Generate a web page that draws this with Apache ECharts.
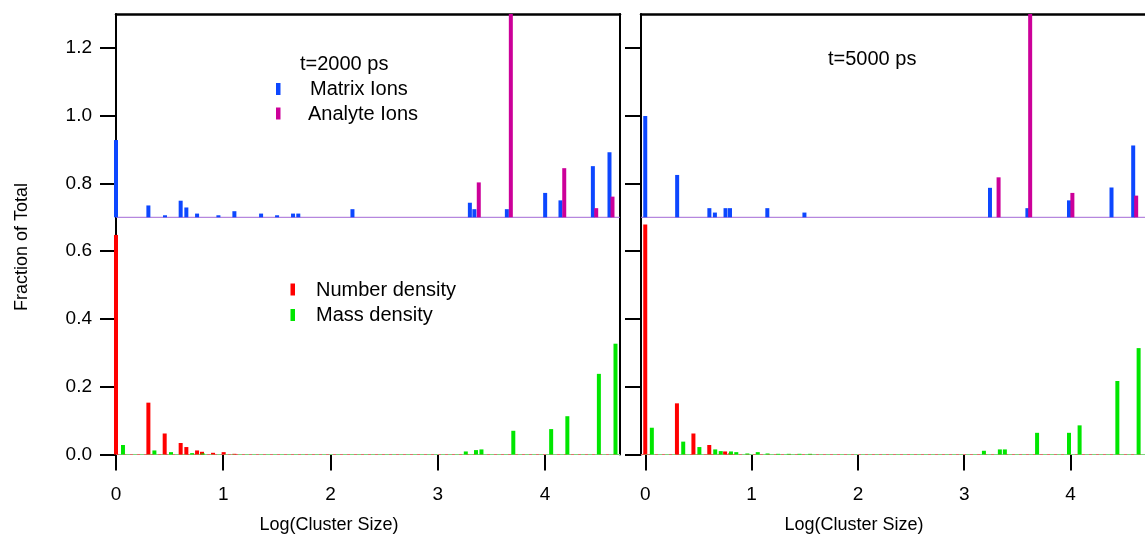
<!DOCTYPE html>
<html>
<head>
<meta charset="utf-8">
<script src="https://cdn.jsdelivr.net/npm/echarts@6/dist/echarts.min.js"></script>
<style>
html,body{margin:0;padding:0;background:#fff;}
#chart{width:1145px;height:541px;}
</style>
</head>
<body>
<div id="chart"></div>
<script>
// ---- data ----
const xTickValues = [0, 1, 2, 3, 4];
const yTickValues = [0, 0.2, 0.4, 0.6, 0.8, 1.0, 1.2];
const ionBaseline = 0.7;

// t = 2000 ps
const matrix2000X = [0.0, 0.302, 0.457, 0.603, 0.656, 0.756, 0.955, 1.104, 1.353, 1.502, 1.651, 1.700, 2.205, 3.300, 3.342, 3.645, 4.002, 4.145, 4.447, 4.602];
const matrix2000Y = [0.928, 0.735, 0.706, 0.749, 0.729, 0.711, 0.706, 0.718, 0.711, 0.706, 0.711, 0.711, 0.724, 0.743, 0.724, 0.724, 0.772, 0.750, 0.851, 0.892];
const analyte2000X = [3.383, 3.682, 4.180, 4.478, 4.630];
const analyte2000Y = [0.803, 1.300, 0.845, 0.727, 0.761];
const number2000X = [0.0, 0.302, 0.454, 0.603, 0.656, 0.756, 0.802, 0.905, 1.004, 1.104];
const number2000Y = [0.648, 0.153, 0.062, 0.034, 0.022, 0.012, 0.008, 0.005, 0.007, 0.002];
const mass2000X = [0.065, 0.358, 0.513, 0.710, 0.810, 3.262, 3.357, 3.408, 3.705, 4.058, 4.209, 4.503, 4.658];
const mass2000Y = [0.028, 0.012, 0.007, 0.004, 0.003, 0.009, 0.013, 0.015, 0.070, 0.075, 0.113, 0.238, 0.327];

// t = 5000 ps
const matrix5000X = [0.0, 0.300, 0.603, 0.655, 0.755, 0.797, 1.148, 1.497, 3.242, 3.594, 3.985, 4.385, 4.589];
const matrix5000Y = [0.999, 0.825, 0.727, 0.714, 0.727, 0.727, 0.727, 0.714, 0.787, 0.727, 0.750, 0.788, 0.912];
const analyte5000X = [3.323, 3.620, 4.017, 4.617];
const analyte5000Y = [0.818, 1.300, 0.772, 0.764];
const number5000X = [0.0, 0.298, 0.453, 0.602, 0.751, 0.800];
const number5000Y = [0.679, 0.151, 0.062, 0.028, 0.009, 0.004];
const mass5000X = [0.062, 0.357, 0.509, 0.658, 0.710, 0.806, 0.856, 0.960, 1.058, 1.150, 1.250, 1.350, 1.450, 1.550, 3.185, 3.335, 3.382, 3.685, 3.985, 4.085, 4.440, 4.640];
const mass5000Y = [0.079, 0.038, 0.022, 0.015, 0.010, 0.009, 0.007, 0.003, 0.007, 0.003, 0.002, 0.002, 0.002, 0.002, 0.011, 0.015, 0.015, 0.064, 0.064, 0.086, 0.217, 0.314];

const xRange2000 = [0, 4.7];
const xRange5000 = [-0.04, 4.7];
const yRange = [0, 1.3];

// ---- styling ----
const C_BLUE = '#0d47ff', C_MAG = '#cc0099', C_RED = '#ff0000', C_GREEN = '#00e600', C_BASE = '#a36ad6';
const FONT = 'Liberation Sans, Arial, Helvetica, sans-serif';
const BAR_W = 4;

const zip = (xs, ys) => xs.map((x, i) => [x, ys[i]]);

function barSeries(name, xs, ys, base, color, idx) {
  return {
    name, type: 'custom', xAxisIndex: idx * 2, yAxisIndex: idx * 2,
    data: zip(xs, ys), silent: true, z: 3,
    renderItem: function (params, api) {
      const x = api.value(0), y = api.value(1);
      const top = api.coord([x, y]);
      const bot = api.coord([x, base]);
      return { type: 'rect', shape: { x: top[0] - BAR_W / 2, y: top[1], width: BAR_W, height: bot[1] - top[1] }, style: { fill: color } };
    }
  };
}
function lineSeries(xr, y, color, type, idx, z) {
  return {
    type: 'line', xAxisIndex: idx * 2, yAxisIndex: idx * 2, data: [[xr[0], y], [xr[1], y]],
    symbol: 'none', silent: true, z: z, lineStyle: { color, width: 1, type }
  };
}

const tickLabel = { fontFamily: FONT, fontSize: 19, color: '#000' };

function xAxes(idx, range, showLabels) {
  return [
    { gridIndex: idx, type: 'value', min: range[0], max: range[1], position: 'bottom',
      axisLine: { show: false },
      axisTick: { show: true, length: 16, inside: false, customValues: xTickValues, lineStyle: { color: '#000', width: 2 } },
      axisLabel: { show: showLabels, customValues: xTickValues, margin: 31, ...tickLabel },
      splitLine: { show: false } },
    { gridIndex: idx, type: 'value', min: range[0], max: range[1], position: 'top',
      axisLine: { show: true, onZero: false, lineStyle: { color: '#000', width: 2.5 } },
      axisTick: { show: false }, axisLabel: { show: false }, splitLine: { show: false } }
  ];
}
function yAxes(idx, showLabels, showRight) {
  return [
    { gridIndex: idx, type: 'value', min: yRange[0], max: yRange[1], position: 'left',
      axisLine: { show: true, onZero: false, lineStyle: { color: '#000', width: 2 } },
      axisTick: { show: true, length: 16, customValues: yTickValues, lineStyle: { color: '#000', width: 2 } },
      axisLabel: { show: showLabels, customValues: yTickValues, margin: 24, formatter: v => v.toFixed(1), ...tickLabel },
      splitLine: { show: false } },
    { gridIndex: idx, type: 'value', min: yRange[0], max: yRange[1], position: 'right',
      axisLine: { show: showRight, onZero: false, lineStyle: { color: '#000', width: 2 } },
      axisTick: { show: false }, axisLabel: { show: false }, splitLine: { show: false } }
  ];
}

const chart = echarts.init(document.getElementById('chart'), null, { renderer: 'canvas' });

function txt(text, x, y, size, extra) {
  return Object.assign({ type: 'text', x, y, silent: true,
    style: { text, fontFamily: FONT, fontSize: size, fill: '#000', textAlign: 'left', textVerticalAlign: 'middle' } }, extra || {});
}
function swatch(x, y, color) {
  return { type: 'rect', silent: true, shape: { x, y, width: 4.5, height: 12 }, style: { fill: color } };
}

const option = {
  animation: false,
  backgroundColor: '#fff',
  grid: [
    { left: 116, top: 14, width: 504, height: 440.5, containLabel: false },
    { left: 641, top: 14, width: 510, height: 440.5, containLabel: false }
  ],
  xAxis: [...xAxes(0, xRange2000, true), ...xAxes(1, xRange5000, true)],
  yAxis: [...yAxes(0, true, true), ...yAxes(1, false, false)],
  series: [
    lineSeries(xRange2000, 0, '#7ed67e', 'solid', 0, 1),
    lineSeries(xRange2000, 0, '#e07070', [3, 4], 0, 2),
    lineSeries(xRange2000, ionBaseline, C_BASE, 'solid', 0, 2),
    lineSeries(xRange5000, 0, '#7ed67e', 'solid', 1, 1),
    lineSeries(xRange5000, 0, '#e07070', [3, 4], 1, 2),
    lineSeries(xRange5000, ionBaseline, C_BASE, 'solid', 1, 2),
    barSeries('Matrix Ions 2000', matrix2000X, matrix2000Y, ionBaseline, C_BLUE, 0),
    barSeries('Analyte Ions 2000', analyte2000X, analyte2000Y, ionBaseline, C_MAG, 0),
    barSeries('Number density 2000', number2000X, number2000Y, 0, C_RED, 0),
    barSeries('Mass density 2000', mass2000X, mass2000Y, 0, C_GREEN, 0),
    barSeries('Matrix Ions 5000', matrix5000X, matrix5000Y, ionBaseline, C_BLUE, 1),
    barSeries('Analyte Ions 5000', analyte5000X, analyte5000Y, ionBaseline, C_MAG, 1),
    barSeries('Number density 5000', number5000X, number5000Y, 0, C_RED, 1),
    barSeries('Mass density 5000', mass5000X, mass5000Y, 0, C_GREEN, 1)
  ],
  graphic: [
    txt('Fraction of Total', 22, 247, 18, { rotation: Math.PI / 2, style: { text: 'Fraction of Total', fontFamily: FONT, fontSize: 18, fill: '#000', textAlign: 'center', textVerticalAlign: 'middle' } }),
    txt('Log(Cluster Size)', 329, 525, 18, { style: { text: 'Log(Cluster Size)', fontFamily: FONT, fontSize: 18, fill: '#000', textAlign: 'center', textVerticalAlign: 'middle' } }),
    txt('Log(Cluster Size)', 854, 525, 18, { style: { text: 'Log(Cluster Size)', fontFamily: FONT, fontSize: 18, fill: '#000', textAlign: 'center', textVerticalAlign: 'middle' } }),
    txt('t=2000 ps', 300, 64, 20),
    swatch(276, 83, C_BLUE),
    txt('Matrix Ions', 310, 89.5, 20),
    swatch(276, 107.5, C_MAG),
    txt('Analyte Ions', 308, 114, 20),
    swatch(290.5, 283.5, C_RED),
    txt('Number density', 316, 290, 20),
    swatch(290.5, 309, C_GREEN),
    txt('Mass density', 316, 315.5, 20),
    txt('t=5000 ps', 828, 59, 20)
  ]
};
chart.setOption(option);
</script>
</body>
</html>
